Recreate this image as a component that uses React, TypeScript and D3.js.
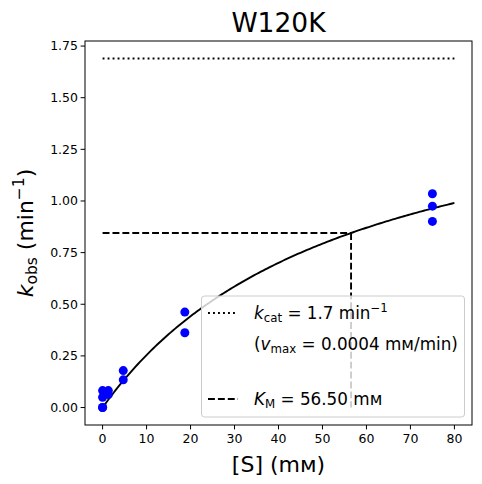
import React from "react";
import * as d3 from "d3";

// Measured substrate concentrations (mM) and observed rates (1/min)
const substrate = [0, 0, 0, 0, 1.3, 1.3, 4.7, 4.7, 18.7, 18.7, 75, 75, 75];
const kobs = [0.0, 0.0, 0.05, 0.082, 0.082, 0.063, 0.179, 0.134, 0.462, 0.362, 1.035, 0.975, 0.901];

// Fit parameters
const kcat = 1.69;
const KM = 56.5;
const fitMax = 80;

const xTicks = [0, 10, 20, 30, 40, 50, 60, 70, 80];
const yTicks = [0, 0.25, 0.5, 0.75, 1.0, 1.25, 1.5, 1.75];

const W = 482;
const H = 484;
const margin = { top: 41, right: 10, bottom: 59, left: 85 };
const font = "DejaVu Sans, sans-serif";

const App: React.FC = () => {
  const x = d3.scaleLinear().domain([-4, 84]).range([margin.left, W - margin.right]);
  const y = d3.scaleLinear().domain([-0.0845, 1.7745]).range([H - margin.bottom, margin.top]);

  const curveX = d3.range(0, fitMax + 0.001, 0.5);
  const line = d3
    .line<number>()
    .x((d) => x(d))
    .y((d) => y((kcat * d) / (KM + d)));

  const kmY = (kcat * KM) / (KM + KM);
  const plotBottom = H - margin.bottom;
  const plotRight = W - margin.right;

  // legend box
  const lg = { x: 201.5, y: 296, w: 263, h: 121 };
  const rowY = [313, 344, 374, 399];
  const lf = 16.8;
  const ls = 11.8;

  return (
    <svg
      width={W}
      height={H}
      style={{ position: "absolute", left: 0, top: 0, background: "white" }}
      fontFamily={font}
    >
      <rect width={W} height={H} fill="white" />
      {/* title */}
      <text x={(margin.left + plotRight) / 2} y={32} textAnchor="middle" fontSize={26.5}>
        W120K
      </text>

      {/* kcat dotted line */}
      <line
        x1={x(0)}
        x2={x(fitMax)}
        y1={y(kcat)}
        y2={y(kcat)}
        stroke="black"
        strokeWidth={1.9}
        strokeDasharray="1.9 3.1"
      />
      {/* KM dashed lines */}
      <line x1={x(0)} x2={x(KM)} y1={y(kmY)} y2={y(kmY)} stroke="black" strokeWidth={1.9} strokeDasharray="6.9 3" />
      <line x1={x(KM)} x2={x(KM)} y1={y(kmY)} y2={y(0)} stroke="black" strokeWidth={1.9} strokeDasharray="6.9 3" />

      {/* fit curve */}
      <path d={line(curveX) ?? ""} fill="none" stroke="black" strokeWidth={1.9} />

      {/* data points */}
      {substrate.map((s, i) => (
        <circle key={i} cx={x(s)} cy={y(kobs[i])} r={4.5} fill="#0000ff" />
      ))}

      {/* legend */}
      <rect x={lg.x} y={lg.y} width={lg.w} height={lg.h} rx={3} fill="white" fillOpacity={0.8} stroke="#cccccc" strokeWidth={1} />
      <line x1={208} x2={238} y1={rowY[0]} y2={rowY[0]} stroke="black" strokeWidth={1.9} strokeDasharray="1.9 3.1" />
      <text x={254} y={rowY[0] + 6} fontSize={lf}>
        <tspan fontStyle="italic">k</tspan>
        <tspan fontSize={ls} dy={3}>cat</tspan>
        <tspan dy={-3}> = 1.7 min</tspan>
        <tspan fontSize={ls} dy={-7}>−1</tspan>
      </text>
      <text x={254} y={rowY[1] + 6} fontSize={lf}>
        <tspan>(</tspan>
        <tspan fontStyle="italic">v</tspan>
        <tspan fontSize={ls} dy={3}>max</tspan>
        <tspan dy={-3}> = 0.0004 mᴍ/min)</tspan>
      </text>
      <line x1={208} x2={238} y1={rowY[3]} y2={rowY[3]} stroke="black" strokeWidth={1.9} strokeDasharray="6.9 3" />
      <text x={254} y={rowY[3] + 6} fontSize={lf}>
        <tspan fontStyle="italic">K</tspan>
        <tspan fontSize={ls} dy={3}>M</tspan>
        <tspan dy={-3}> = 56.50 mᴍ</tspan>
      </text>

      {/* frame */}
      <rect
        x={margin.left}
        y={margin.top}
        width={plotRight - margin.left}
        height={plotBottom - margin.top}
        fill="none"
        stroke="black"
        strokeWidth={1}
      />

      {/* x axis */}
      {xTicks.map((t) => (
        <g key={t} transform={`translate(${x(t)},${plotBottom})`}>
          <line y2={4.4} stroke="black" strokeWidth={1} />
          <text y={18} textAnchor="middle" fontSize={12.5}>
            {t}
          </text>
        </g>
      ))}
      <text x={(margin.left + plotRight) / 2} y={472} textAnchor="middle" fontSize={22}>
        [S] (mᴍ)
      </text>

      {/* y axis */}
      {yTicks.map((t) => (
        <g key={t} transform={`translate(${margin.left},${y(t)})`}>
          <line x2={-4.4} stroke="black" strokeWidth={1} />
          <text x={-7} dy="0.35em" textAnchor="end" fontSize={12.5}>
            {t.toFixed(2)}
          </text>
        </g>
      ))}
      <text transform={`translate(33,${(margin.top + plotBottom) / 2}) rotate(-90)`} textAnchor="middle" fontSize={22}>
        <tspan fontStyle="italic">k</tspan>
        <tspan fontSize={15.5} dy={4}>obs</tspan>
        <tspan dy={-4}> (min</tspan>
        <tspan fontSize={15.5} dy={-9}>−1</tspan>
        <tspan dy={9}>)</tspan>
      </text>
    </svg>
  );
};

export default App;
